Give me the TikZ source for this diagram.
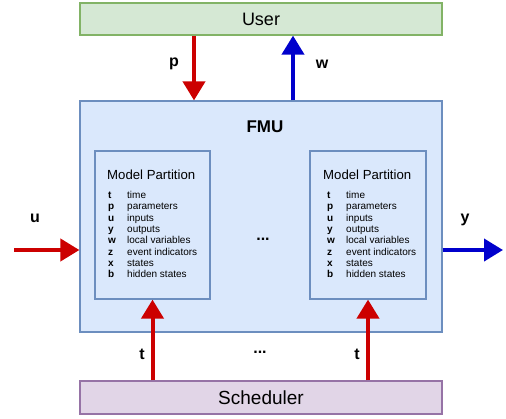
\documentclass[tikz,border=0pt]{standalone}
\usepackage{fontspec}
\setmainfont{Liberation Sans}
\usetikzlibrary{arrows.meta}
\definecolor{usrfill}{HTML}{D5E8D4}\definecolor{usrdraw}{HTML}{82B366}
\definecolor{fmufill}{HTML}{DAE8FC}\definecolor{fmudraw}{HTML}{6C8EBF}
\definecolor{schfill}{HTML}{E1D5E7}\definecolor{schdraw}{HTML}{9673A6}
\definecolor{sigred}{HTML}{CC0000}\definecolor{sigblue}{HTML}{0000CC}
\newcommand{\varlist}{%
  \fontsize{10}{11.3}\selectfont
  \begin{tabular}{@{}p{19pt}@{}l@{}}
  \textbf{t} & time\\
  \textbf{p} & parameters\\
  \textbf{u} & inputs\\
  \textbf{y} & outputs\\
  \textbf{w} & local variables\\
  \textbf{z} & event indicators\\
  \textbf{x} & states\\
  \textbf{b} & hidden states
  \end{tabular}}
\tikzset{
  box/.style={draw, line width=1.2pt, minimum width=362pt, inner sep=0pt},
  part/.style={draw=fmudraw, fill=fmufill, line width=1.2pt, minimum height=148pt, inner sep=0pt},
  sig/.style={line width=4pt, -{Triangle[width=22pt,length=19pt]}},
  lbl/.style={font=\fontsize{16}{16}\selectfont\bfseries, inner sep=0pt},
  title/.style={font=\fontsize{13.2}{14}\selectfont, inner sep=0pt, anchor=west},
  lst/.style={inner sep=0pt, anchor=north west, align=left}
}
\begin{document}
\begin{tikzpicture}[x=1pt,y=-1pt]
\useasboundingbox (0,0) rectangle (506,418);
% outer blocks
\node[box, draw=usrdraw, fill=usrfill, minimum height=32pt] (user) at (261,19) {\fontsize{18}{18}\selectfont User};
\node[box, draw=fmudraw, fill=fmufill, minimum height=231pt] (fmu) at (261,216.5) {};
\node[box, draw=schdraw, fill=schfill, minimum height=33pt] (sched) at (261,397.5) {\fontsize{19}{20}\selectfont Scheduler};
\node[lbl, font=\fontsize{17}{17}\selectfont\bfseries] (fmut) at (265,127) {FMU};
% model partitions
\node[part, minimum width=115pt] (pl) at (152.5,225) {};
\node[part, minimum width=116pt] (pr) at (368,225) {};
\node[title] (plt) at (107,175) {Model Partition};
\node[title] (prt) at (323,175) {Model Partition};
\node[lst] (pll) at (108,190.5) {\varlist};
\node[lst] (prl) at (327,190.5) {\varlist};
\node[lbl] (dm) at (263,239) {...};
\node[lbl] (db) at (260,352) {...};
% free ends of the outside signals
\coordinate (uin) at (14,250);
\coordinate (yout) at (503,250);
\coordinate (px) at (194,0);
\coordinate (wx) at (293,0);
% signals
\draw[sig, sigred] (user.south -| px) -- (fmu.north -| px);
\draw[sig, sigblue] (fmu.north -| wx) -- (user.south -| wx);
\draw[sig, sigred] (uin) -- (fmu.west |- uin);
\draw[sig, sigblue] (fmu.east |- yout) -- (yout);
\draw[sig, sigred] (sched.north -| pl.south) -- (pl.south);
\draw[sig, sigred] (sched.north -| pr.south) -- (pr.south);
% signal labels
\node[lbl] (lp) at (174,64) {p};
\node[lbl] (lw) at (322,64) {w};
\node[lbl] (lu) at (35,218) {u};
\node[lbl] (ly) at (465,220) {y};
\node[lbl] (lt1) at (142,354) {t};
\node[lbl] (lt2) at (357,354) {t};
\end{tikzpicture}
\end{document}
